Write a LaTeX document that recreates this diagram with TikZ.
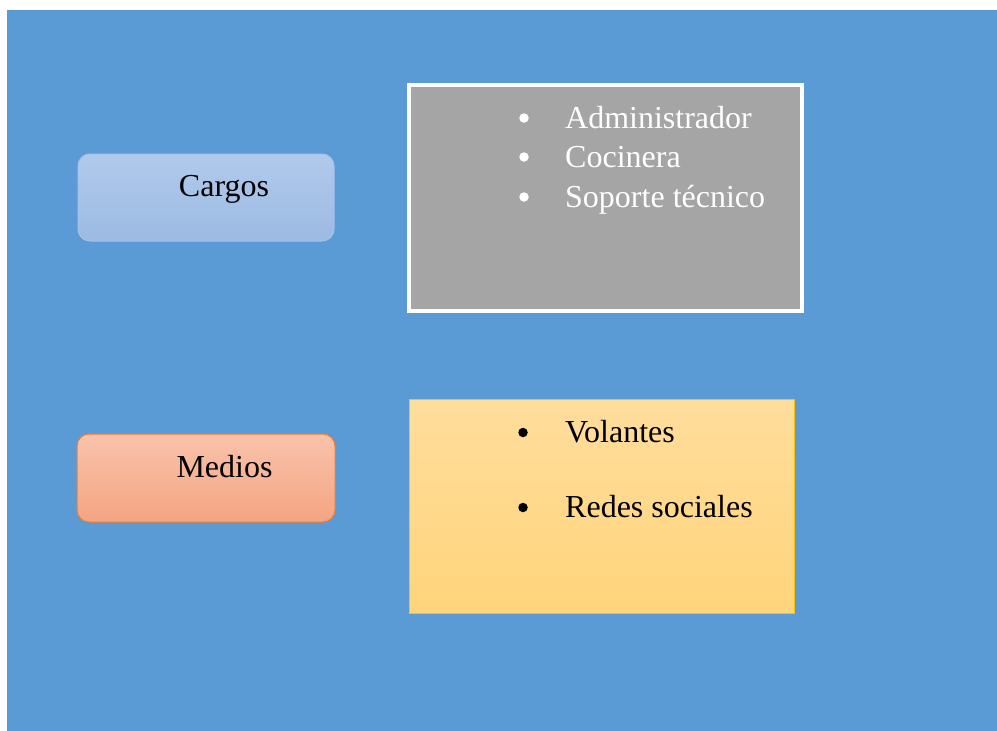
\documentclass[tikz,border=0pt]{standalone}
\usepackage{fontspec}
\setmainfont{Liberation Serif}
\usepackage{tikz}

\definecolor{fondo}{HTML}{5B9BD5}
\definecolor{gris}{HTML}{A5A5A5}
\definecolor{azulA}{HTML}{B0CAEB}
\definecolor{azulB}{HTML}{9CBAE3}
\definecolor{azulL}{HTML}{A6C2E8}
\definecolor{salmonA}{HTML}{F9C3AB}
\definecolor{salmonB}{HTML}{F4A482}
\definecolor{naranja}{HTML}{ED7D31}
\definecolor{amarilloA}{HTML}{FFDD9C}
\definecolor{amarilloB}{HTML}{FFD47B}
\definecolor{oro}{HTML}{FFC000}

\begin{document}
\begin{tikzpicture}[x=1pt,y=-1pt,
        every node/.style={inner sep=0pt, font=\fontsize{32}{38}\selectfont},
        caja/.style={rounded corners=12pt, minimum width=256pt, minimum height=87pt},
        item/.style={anchor=base west},
        punto/.style={circle, minimum size=9.5pt}]
        \useasboundingbox (0,0) rectangle (997,731);
        \fill[fondo] (7,10) rectangle (997,731);

        % cajas de la izquierda
        \node[caja, draw=azulL, line width=1pt, top color=azulA, bottom color=azulB] (cargos) at (206,197.5) {};
        \node[anchor=base] (tcargos) at (224,196) {Cargos};
        \node[caja, draw=naranja, line width=1pt, top color=salmonA, bottom color=salmonB, minimum width=258pt, minimum height=88pt] (medios) at (206,478) {};
        \node[anchor=base] (tmedios) at (224.5,477) {Medios};

        % lista de cargos
        \node[draw=white, line width=3.5pt, fill=gris, minimum width=393pt, minimum height=226pt] (lcargos) at (605.5,198) {};
        \node[punto, fill=white] (p1) at (524,118) {};
        \node[item, white] (admin) at (565,128) {Administrador};
        \node[punto, fill=white] (p2) at (524,157) {};
        \node[item, white] (coci) at (565,167) {Cocinera};
        \node[punto, fill=white] (p3) at (524,197) {};
        \node[item, white] (sopo) at (565,207) {Soporte técnico};

        % lista de medios
        \node[draw=oro, line width=0.6pt, top color=amarilloA, bottom color=amarilloB, minimum width=385pt, minimum height=214pt] (lmedios) at (601.5,506) {};
        \node[punto, fill=black] (p4) at (523,432.5) {};
        \node[item] (vola) at (565,442) {Volantes};
        \node[punto, fill=black] (p5) at (523,507.5) {};
        \node[item] (redes) at (565,517) {Redes sociales};
    \end{tikzpicture}
\end{document}
